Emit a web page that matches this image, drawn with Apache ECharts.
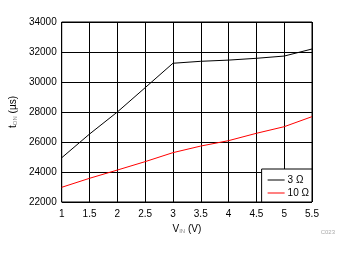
<!DOCTYPE html>
<html><head><meta charset="utf-8">
<script src="https://cdn.jsdelivr.net/npm/echarts@6/dist/echarts.min.js"></script>
<style>html,body{margin:0;padding:0;background:#fff}#c{width:345px;height:254px}</style>
</head><body><div id="c"></div>
<script>
const xTicks = [1, 1.5, 2, 2.5, 3, 3.5, 4, 4.5, 5, 5.5];
const yTicks = [22000, 24000, 26000, 28000, 30000, 32000, 34000];
const vin = [1, 1.5, 2, 2.5, 3, 3.5, 4, 4.5, 5, 5.5];
const ton3 = [24950, 26530, 28000, 29620, 31250, 31380, 31460, 31580, 31730, 32200];
const ton10 = [22980, 23580, 24130, 24690, 25290, 25730, 26090, 26580, 27020, 27690];
const seriesNames = ['3 Ω', '10 Ω'];

const chart = echarts.init(document.getElementById('c'), null, {renderer: 'canvas'});
const font = 'Liberation Sans, Arial, sans-serif';
chart.setOption({
  animation: false,
  backgroundColor: '#fff',
  grid: {left: 57, right: 33, top: 22, bottom: 52, show: true, borderColor: '#000', borderWidth: 1},
  xAxis: {
    type: 'value', min: 1, max: 5.5, interval: 0.5,
    axisLine: {show: false}, axisTick: {show: false},
    splitLine: {show: true, lineStyle: {color: '#000', width: 1}},
    axisLabel: {color: '#000', fontSize: 10, fontFamily: font, margin: 7,
      formatter: v => xTicks.includes(v) ? String(v) : ''},
    name: '{t|V}{s|IN}{t| (V)}', nameLocation: 'middle', nameGap: 22,
    nameTextStyle: {rich: {
      t: {fontSize: 10, color: '#000', fontFamily: font},
      s: {fontSize: 6, color: '#888', fontFamily: font, padding: [4, 0, 0, 0]}
    }}
  },
  yAxis: {
    type: 'value', min: 22000, max: 34000, interval: 2000,
    axisLine: {show: false}, axisTick: {show: false},
    splitLine: {show: true, lineStyle: {color: '#000', width: 1}},
    axisLabel: {color: '#000', fontSize: 10, fontFamily: font, margin: 5,
      formatter: v => yTicks.includes(v) ? String(v) : ''},
    name: '{t|t}{s|ON}{t| (µs)}', nameLocation: 'middle', nameGap: 33,
    nameTextStyle: {rich: {
      t: {fontSize: 10, color: '#000', fontFamily: font},
      s: {fontSize: 6, color: '#888', fontFamily: font, padding: [4, 0, 0, 0]}
    }}
  },
  legend: {
    orient: 'vertical', right: 33, bottom: 52,
    backgroundColor: '#fff', borderColor: '#000', borderWidth: 1, borderRadius: 0,
    padding: [6, 3, 4, 6], itemGap: 3, itemWidth: 17, itemHeight: 1,
    icon: 'rect',
    textStyle: {fontSize: 10, color: '#000', fontFamily: font, padding: [0, 0, 0, -2]},
    data: seriesNames
  },
  series: [
    {name: seriesNames[0], type: 'line', showSymbol: false, symbol: 'none',
      lineStyle: {color: '#000', width: 1}, itemStyle: {color: '#000'},
      data: vin.map((x, i) => [x, ton3[i]])},
    {name: seriesNames[1], type: 'line', showSymbol: false, symbol: 'none',
      lineStyle: {color: '#f00', width: 1}, itemStyle: {color: '#f00'},
      data: vin.map((x, i) => [x, ton10[i]])}
  ],
  graphic: [{type: 'text', right: 10, top: 229,
    style: {text: 'C023', fontSize: 6, fill: '#aaa', fontFamily: font}}]
});
</script></body></html>
